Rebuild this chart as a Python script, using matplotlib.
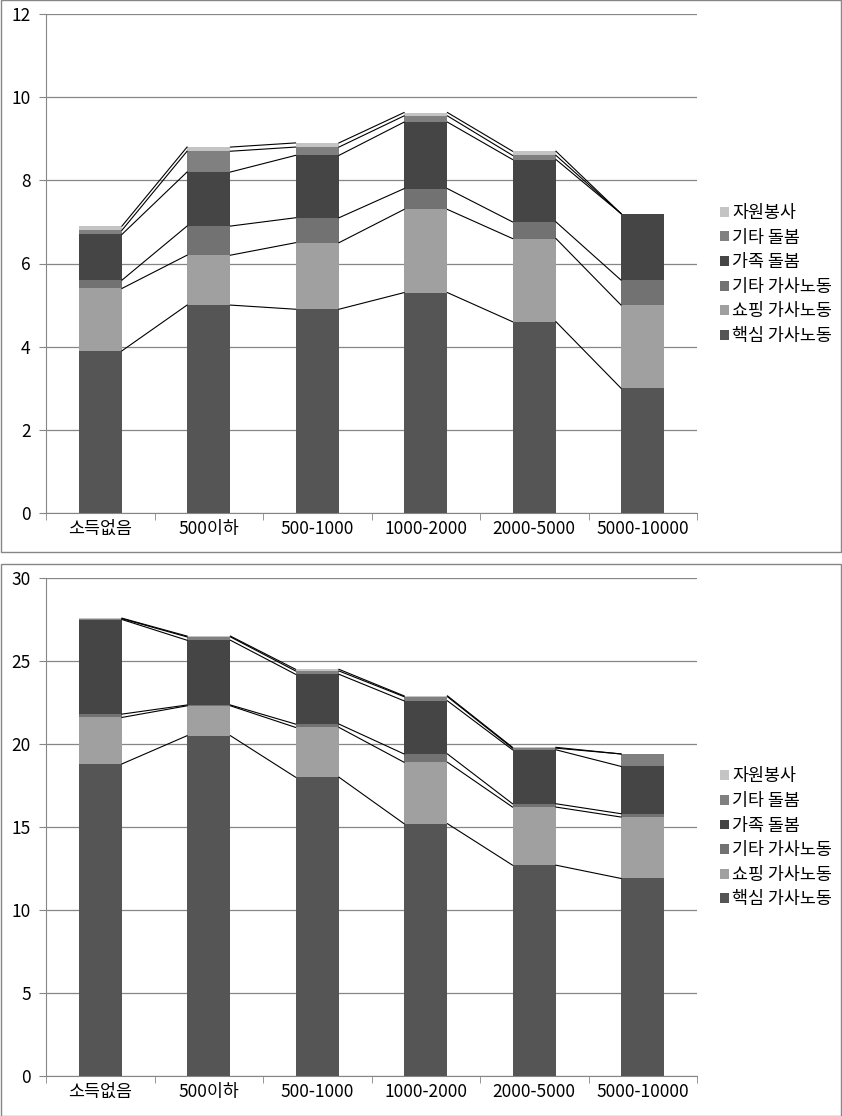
import numpy as np
import matplotlib
matplotlib.use("Agg")
import matplotlib.pyplot as plt
from matplotlib.patches import Rectangle

plt.rcParams['font.family'] = ['Noto Sans CJK KR', 'DejaVu Sans']

# Categories (income groups) and series names
categories = ["소득없음", "500이하", "500-1000", "1000-2000", "2000-5000", "5000-10000"]
series_names = ["핵심 가사노동", "쇼핑 가사노동", "기타 가사노동", "가족 돌봄", "기타 돌봄", "자원봉사"]
series_colors = ["#555555", "#a0a0a0", "#727272", "#454545", "#808080", "#c4c4c4"]

# Top chart values (hours)
top_core = [3.9, 5.0, 4.9, 5.3, 4.6, 3.0]
top_shop = [1.5, 1.2, 1.6, 2.0, 2.0, 2.0]
top_other_house = [0.2, 0.7, 0.6, 0.5, 0.4, 0.6]
top_family_care = [1.1, 1.3, 1.5, 1.6, 1.5, 1.6]
top_other_care = [0.1, 0.5, 0.2, 0.15, 0.1, 0.0]
top_volunteer = [0.1, 0.1, 0.1, 0.08, 0.1, 0.0]

# Bottom chart values (hours)
bot_core = [18.8, 20.5, 18.0, 15.2, 12.7, 11.9]
bot_shop = [2.8, 1.8, 3.0, 3.7, 3.5, 3.7]
bot_other_house = [0.2, 0.05, 0.2, 0.5, 0.2, 0.2]
bot_family_care = [5.7, 3.9, 3.0, 3.2, 3.25, 2.85]
bot_other_care = [0.05, 0.2, 0.2, 0.25, 0.1, 0.75]
bot_volunteer = [0.03, 0.05, 0.1, 0.05, 0.05, 0.0]

W, H = 842, 1116
fig = plt.figure(figsize=(W / 100, H / 100), dpi=100)

# chart boxes
for y0, y1 in [(0, 551), (563, 1115)]:
    fig.patches.append(Rectangle((0.5 / W, 1 - (y1 + 0.5) / H), (W - 1.5) / W, (y1 - y0) / H,
                                 transform=fig.transFigure, fill=False,
                                 edgecolor="#868686", lw=1.0))

bar_w = 0.4
x = np.arange(len(categories))


def draw_chart(ax, data, ymax, ystep, legend_y):
    cum = np.zeros(len(categories))
    tops = []
    for vals, name, col in zip(data, series_names, series_colors):
        vals = np.array(vals)
        ax.bar(x, vals, bar_w, bottom=cum, color=col, label=name, zorder=3, linewidth=0)
        cum = cum + vals
        tops.append(cum.copy())
    # series lines between neighbouring bars
    for t in tops:
        for i in range(len(categories) - 1):
            ax.plot([x[i] + bar_w / 2, x[i + 1] - bar_w / 2], [t[i], t[i + 1]],
                    color="black", lw=0.8, zorder=4)
    ax.set_xlim(-0.5, len(categories) - 0.5)
    ax.set_ylim(0, ymax)
    ticks = np.arange(0, ymax + 0.01, ystep)
    ax.set_yticks(ticks)
    ax.set_yticklabels([f"{v:g}" for v in ticks], fontsize=12.5)
    ax.set_xticks(x)
    ax.set_xticklabels(categories, fontsize=12.5)
    ax.set_xticks(np.arange(-0.5, len(categories)), minor=True)
    ax.tick_params(axis='x', which='major', length=0, pad=5)
    ax.tick_params(axis='x', which='minor', length=5, color="#868686", direction='out')
    ax.tick_params(axis='y', length=5, color="#868686", direction='out', pad=6)
    ax.grid(axis='y', color="#868686", lw=0.9, zorder=0)
    for s in ['top', 'right']:
        ax.spines[s].set_visible(False)
    for s in ['left', 'bottom']:
        ax.spines[s].set_color("#868686")
    handles, labels = ax.get_legend_handles_labels()
    ax.legend(handles[::-1], labels[::-1], loc='center left',
              bbox_to_anchor=(1.025, legend_y), frameon=False, fontsize=12.5,
              handlelength=0.5, handleheight=0.5, handletextpad=0.2,
              labelspacing=0.38, borderaxespad=0)


ax1 = fig.add_axes([46 / W, 1 - 513 / H, 651 / W, 499 / H])
draw_chart(ax1, [top_core, top_shop, top_other_house, top_family_care, top_other_care, top_volunteer],
           12, 2, 0.478)

ax2 = fig.add_axes([46 / W, 1 - 1076 / H, 651 / W, 498 / H])
draw_chart(ax2, [bot_core, bot_shop, bot_other_house, bot_family_care, bot_other_care, bot_volunteer],
           30, 5, 0.478)

fig.savefig("out.png", dpi=100)
